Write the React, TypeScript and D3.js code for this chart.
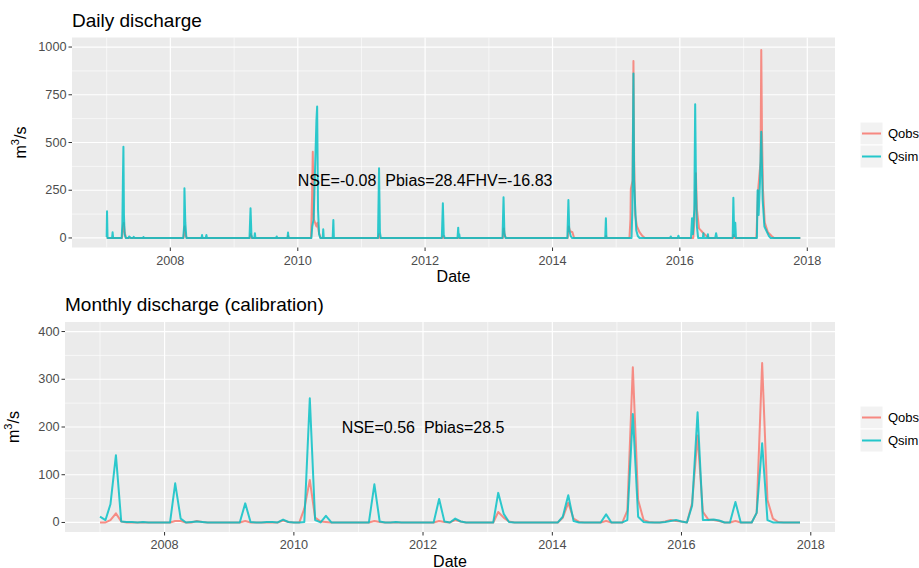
import React from 'react';
import * as d3 from 'd3';

// daily series, digitised as [date, m3/s] points
const qobsDaily: [string, number][] = [
  ['2007-01-01', 0], ['2007-03-30', 0], ['2007-04-05', 60], ['2007-04-09', 78], ['2007-04-14', 30], ['2007-04-22', 0],
  ['2008-03-17', 0], ['2008-03-23', 60], ['2008-03-28', 15], ['2008-04-05', 0],
  ['2009-04-01', 0], ['2009-04-06', 20], ['2009-04-12', 0],
  ['2009-11-03', 0], ['2009-11-07', 10], ['2009-11-11', 0],
  ['2010-03-18', 0], ['2010-03-24', 223], ['2010-03-28', 452], ['2010-04-02', 100], ['2010-04-18', 60],
  ['2010-04-24', 80], ['2010-05-02', 30], ['2010-05-12', 0],
  ['2011-04-08', 0], ['2011-04-12', 20], ['2011-04-18', 0],
  ['2012-04-08', 0], ['2012-04-13', 10], ['2012-04-18', 0],
  ['2013-03-22', 0], ['2013-03-27', 50], ['2013-04-03', 10], ['2013-04-10', 0],
  ['2014-03-29', 0], ['2014-04-04', 60], ['2014-04-12', 35], ['2014-04-25', 30], ['2014-05-05', 0],
  ['2014-10-31', 0], ['2014-11-04', 10], ['2014-11-08', 0],
  ['2015-03-18', 0], ['2015-03-24', 100], ['2015-03-26', 257], ['2015-04-05', 300], ['2015-04-10', 927],
  ['2015-04-14', 400], ['2015-04-20', 120], ['2015-04-30', 60], ['2015-05-15', 30], ['2015-06-01', 10], ['2015-06-15', 0],
  ['2016-03-18', 0], ['2016-03-25', 100], ['2016-04-02', 339], ['2016-04-08', 150], ['2016-04-20', 50],
  ['2016-05-10', 30], ['2016-06-01', 10], ['2016-06-15', 0],
  ['2016-11-01', 0], ['2016-11-05', 15], ['2016-11-10', 0],
  ['2017-03-15', 0], ['2017-03-25', 251], ['2017-04-08', 400], ['2017-04-12', 984], ['2017-04-16', 560],
  ['2017-04-22', 250], ['2017-05-02', 80], ['2017-05-20', 30], ['2017-06-10', 10], ['2017-06-25', 0],
  ['2017-11-22', 0],
];

const qsimDaily: [string, number][] = [
  ['2007-01-01', 5], ['2007-01-03', 140], ['2007-01-06', 0],
  ['2007-02-01', 0], ['2007-02-04', 30], ['2007-02-07', 0],
  ['2007-03-28', 0], ['2007-04-01', 80], ['2007-04-04', 295], ['2007-04-07', 478], ['2007-04-10', 120],
  ['2007-04-14', 20], ['2007-04-20', 0], ['2007-05-07', 0], ['2007-05-10', 8], ['2007-05-20', 0],
  ['2007-06-02', 0], ['2007-06-05', 6], ['2007-06-10', 0], ['2007-07-28', 0], ['2007-07-31', 5], ['2007-08-03', 0],
  ['2008-03-15', 0], ['2008-03-20', 60], ['2008-03-22', 260], ['2008-03-27', 80], ['2008-04-02', 0],
  ['2008-06-28', 0], ['2008-07-01', 15], ['2008-07-04', 0], ['2008-07-22', 0], ['2008-07-26', 15], ['2008-07-29', 0],
  ['2009-03-30', 0], ['2009-04-05', 155], ['2009-04-10', 20], ['2009-04-14', 0],
  ['2009-04-27', 0], ['2009-04-30', 25], ['2009-05-03', 0],
  ['2009-08-30', 0], ['2009-09-02', 8], ['2009-09-05', 0], ['2009-11-03', 0], ['2009-11-06', 28], ['2009-11-09', 0],
  ['2010-03-20', 0], ['2010-03-25', 60], ['2010-04-02', 100], ['2010-04-18', 618], ['2010-04-22', 688],
  ['2010-04-27', 150], ['2010-05-03', 20], ['2010-05-10', 0],
  ['2010-05-24', 0], ['2010-05-27', 45], ['2010-05-30', 0], ['2010-07-20', 0], ['2010-07-24', 94], ['2010-07-27', 0],
  ['2011-04-06', 0], ['2011-04-12', 365], ['2011-04-17', 30], ['2011-04-22', 0],
  ['2012-04-06', 0], ['2012-04-12', 182], ['2012-04-17', 20], ['2012-04-22', 0],
  ['2012-07-05', 0], ['2012-07-09', 54], ['2012-07-12', 5], ['2012-07-15', 20], ['2012-07-18', 0],
  ['2013-03-20', 0], ['2013-03-26', 213], ['2013-03-31', 25], ['2013-04-06', 0],
  ['2014-03-27', 0], ['2014-04-02', 199], ['2014-04-07', 40], ['2014-04-15', 10], ['2014-04-22', 0],
  ['2014-10-30', 0], ['2014-11-03', 103], ['2014-11-06', 0],
  ['2015-03-30', 0], ['2015-04-04', 150], ['2015-04-10', 862], ['2015-04-14', 300], ['2015-04-20', 157],
  ['2015-04-26', 40], ['2015-05-05', 10], ['2015-05-15', 0],
  ['2015-11-06', 0], ['2015-11-10', 8], ['2015-11-14', 0], ['2015-12-20', 0], ['2015-12-24', 12], ['2015-12-28', 0],
  ['2016-03-05', 0], ['2016-03-11', 103], ['2016-03-16', 20], ['2016-03-24', 150], ['2016-03-29', 700],
  ['2016-04-03', 250], ['2016-04-08', 60], ['2016-04-15', 0],
  ['2016-05-12', 0], ['2016-05-15', 25], ['2016-05-18', 0], ['2016-06-07', 0], ['2016-06-10', 20], ['2016-06-13', 0],
  ['2016-07-22', 0], ['2016-07-27', 25], ['2016-08-01', 0],
  ['2016-10-30', 0], ['2016-11-03', 211], ['2016-11-08', 10], ['2016-11-14', 80], ['2016-11-18', 0],
  ['2017-03-18', 0], ['2017-03-22', 250], ['2017-03-28', 120], ['2017-04-05', 300], ['2017-04-12', 556],
  ['2017-04-20', 200], ['2017-04-30', 60], ['2017-05-26', 10], ['2017-06-05', 0],
  ['2017-11-22', 0],
];

// monthly series, Jan 2007 .. Nov 2017
const monthStart = '2007-01-01';
const qobsMonthly = [
  0, 0, 5, 19, 2, 0, 0, 0, 0, 0, 0, 0,
  0, 0, 3, 3, 0, 0, 3, 1, 0, 0, 0, 0,
  0, 0, 0, 3, 0, 0, 0, 0, 0, 0, 4, 1,
  0, 0, 29, 89, 10, 2, 1, 0, 0, 0, 0, 0,
  0, 0, 0, 3, 1, 0, 0, 0, 0, 0, 0, 0,
  0, 0, 0, 3, 1, 0, 5, 2, 0, 0, 0, 0,
  0, 0, 22, 10, 2, 0, 0, 0, 0, 0, 0, 0,
  0, 0, 10, 41, 8, 1, 0, 0, 0, 0, 3, 0,
  0, 0, 25, 325, 47, 5, 1, 0, 0, 2, 5, 3,
  2, 0, 40, 182, 22, 6, 5, 3, 0, 0, 3, 0,
  0, 0, 20, 334, 47, 8, 1, 0, 0, 0, 0,
];
const qsimMonthly = [
  12, 5, 38, 141, 2, 1, 1, 0, 1, 0, 0, 0,
  0, 0, 82, 8, 0, 1, 2, 1, 0, 0, 0, 0,
  0, 0, 0, 40, 1, 0, 0, 1, 1, 0, 6, 1,
  0, 0, 1, 260, 5, 0, 14, 0, 0, 0, 0, 0,
  0, 0, 0, 80, 2, 0, 0, 1, 0, 0, 0, 0,
  0, 0, 0, 49, 2, 0, 8, 2, 0, 0, 0, 0,
  0, 0, 62, 18, 1, 0, 0, 0, 0, 0, 0, 0,
  0, 0, 12, 57, 3, 0, 0, 0, 0, 0, 17, 0,
  0, 0, 5, 227, 12, 1, 0, 0, 0, 1, 3, 5,
  2, 0, 35, 231, 5, 5, 6, 4, 0, 0, 43, 0,
  0, 0, 20, 166, 5, 0, 0, 0, 0, 0, 0,
];

const seriesNames = ['Qobs', 'Qsim'];
const dailyYTicks = [0, 250, 500, 750, 1000];
const monthlyYTicks = [0, 100, 200, 300, 400];
const xTickYears = [2008, 2010, 2012, 2014, 2016, 2018];

const colors: Record<string, string> = { Qobs: '#F8766D', Qsim: '#00BFC4' };
const FONT = '"Liberation Sans", Arial, sans-serif';

type Pt = { date: Date; value: number };

const parse = d3.utcParse('%Y-%m-%d');
const toPts = (rows: [string, number][]): Pt[] => rows.map(([d, v]) => ({ date: parse(d) as Date, value: v }));
const monthly = (vals: number[]): Pt[] =>
  vals.map((v, i) => ({ date: d3.utcMonth.offset(parse(monthStart) as Date, i), value: v }));

function expand(a: number, b: number, f = 0.05) {
  const d = (b - a) * f;
  return [a - d, b + d];
}

function Panel(props: {
  left: number; right: number; top: number; bottom: number;
  series: Pt[][]; yMax: number; yTicks: number[];
  title: string; note: string; noteY: number; legendTop: number;
}) {
  const { left, right, top, bottom, series, yMax, yTicks, title, note, noteY, legendTop } = props;
  const all = series.flat();
  const [t0, t1] = d3.extent(all, (d) => +d.date) as [number, number];
  const [e0, e1] = expand(t0, t1);
  const x = d3.scaleUtc().domain([new Date(e0), new Date(e1)]).range([left, right]);
  const y = d3.scaleLinear().domain(expand(0, yMax)).range([bottom, top]);

  const step = yTicks[1] - yTicks[0];
  const yMinor = yTicks.slice(0, -1).map((t) => t + step / 2);
  const year = (yr: number) => new Date(Date.UTC(yr, 0, 1));
  const xMinor = d3.range(2007, 2019, 2).map(year);
  const xMajor = xTickYears.map(year);

  const line = d3.line<Pt>().x((d) => x(d.date)).y((d) => y(d.value));
  const midX = (left + right) / 2;
  const midY = (top + bottom) / 2;

  return (
    <g>
      <text x={left} y={top - 11} fontSize={19} fill="#000">{title}</text>
      <rect x={left} y={top} width={right - left} height={bottom - top} fill="#EBEBEB" />
      {yMinor.map((t) => (
        <line key={'ym' + t} x1={left} x2={right} y1={y(t)} y2={y(t)} stroke="#fff" strokeWidth={0.6} />
      ))}
      {xMinor.map((t) => (
        <line key={'xm' + +t} x1={x(t)} x2={x(t)} y1={top} y2={bottom} stroke="#fff" strokeWidth={0.6} />
      ))}
      {yTicks.map((t) => (
        <line key={'yM' + t} x1={left} x2={right} y1={y(t)} y2={y(t)} stroke="#fff" strokeWidth={1.2} />
      ))}
      {xMajor.map((t) => (
        <line key={'xM' + +t} x1={x(t)} x2={x(t)} y1={top} y2={bottom} stroke="#fff" strokeWidth={1.2} />
      ))}
      {series.map((s, i) => (
        <path key={i} d={line(s) || ''} fill="none" stroke={colors[seriesNames[i]]}
          strokeWidth={2} strokeOpacity={0.82} strokeLinejoin="round" />
      ))}
      <text x={x(year(2012))} y={y(noteY)} fontSize={16} textAnchor="middle"
        dominantBaseline="central" fill="#000" style={{ whiteSpace: 'pre' }}>{note}</text>
      {yTicks.map((t) => (
        <g key={'yt' + t}>
          <line x1={left - 3.5} x2={left} y1={y(t)} y2={y(t)} stroke="#333" strokeWidth={1} />
          <text x={left - 5.5} y={y(t)} fontSize={12.7} fill="#4D4D4D" textAnchor="end" dominantBaseline="central">{t}</text>
        </g>
      ))}
      {xMajor.map((t) => (
        <g key={'xt' + +t}>
          <line x1={x(t)} x2={x(t)} y1={bottom} y2={bottom + 3.5} stroke="#333" strokeWidth={1} />
          <text x={x(t)} y={bottom + 17} fontSize={12.7} fill="#4D4D4D" textAnchor="middle">{d3.utcFormat('%Y')(t)}</text>
        </g>
      ))}
      <text x={midX} y={bottom + 34.5} fontSize={16} textAnchor="middle" fill="#000">Date</text>
      <text transform={`translate(${left - 46},${midY}) rotate(-90)`} fontSize={16} textAnchor="middle" fill="#000">
        m<tspan fontSize={11} dy={-7}>3</tspan><tspan dy={7}>/s</tspan>
      </text>
      {seriesNames.map((n, i) => (
        <g key={n} transform={`translate(860,${legendTop + i * 23})`}>
          <rect width={23} height={23} fill="#F2F2F2" stroke="#fff" />
          <line x1={2} x2={21} y1={11.5} y2={11.5} stroke={colors[n]} strokeWidth={2} strokeOpacity={0.85} />
          <text x={28} y={11.5} fontSize={13} fill="#000" dominantBaseline="central">{n}</text>
        </g>
      ))}
    </g>
  );
}

export default function App() {
  const daily = [toPts(qobsDaily), toPts(qsimDaily)];
  const month = [monthly(qobsMonthly), monthly(qsimMonthly)];
  return (
    <svg width={919} height={568} style={{ position: 'absolute', left: 0, top: 0, background: '#fff', fontFamily: FONT }}>
      <Panel left={72} right={835} top={37.5} bottom={247.5} series={daily} yMax={1000} yTicks={dailyYTicks}
        title="Daily discharge" note={'NSE=-0.08  Pbias=28.4FHV=-16.83'} noteY={300} legendTop={122} />
      <Panel left={65} right={835} top={322} bottom={532} series={month} yMax={400} yTicks={monthlyYTicks}
        title="Monthly discharge (calibration)" note={'NSE=0.56  Pbias=28.5'} noteY={200} legendTop={406} />
    </svg>
  );
}
